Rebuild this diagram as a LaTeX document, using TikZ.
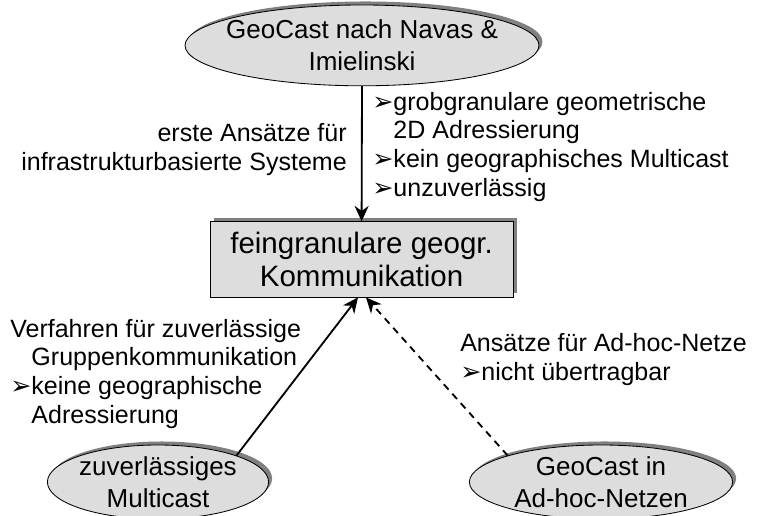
\documentclass[tikz,border=0pt]{standalone}
\usepackage{fontspec}
\setmainfont{Liberation Sans}
\newfontfamily\dejavu{DejaVu Sans}
\usepackage{tikz}
\usetikzlibrary{arrows.meta,positioning,shapes.geometric,shadows,calc}
\definecolor{knotengrau}{RGB}{221,221,221}
\definecolor{schattengrau}{RGB}{128,128,128}
\newcommand{\bul}{{\dejavu\fontsize{18}{18}\selectfont ➢}}

\begin{document}
\begin{tikzpicture}[
    verfahren/.style={draw=black, line width=0.6pt, ellipse, fill=knotengrau, inner xsep=-1cm, inner ysep=0pt, align=center, font=\fontsize{18.5}{22.8}\selectfont, drop shadow={shadow xshift=2.5pt, shadow yshift=2.5pt, fill=schattengrau, opacity=1}},
    ziel/.style={draw=black, line width=0.6pt, rectangle, fill=knotengrau, inner sep=0pt, align=center, font=\fontsize{21}{23.5}\selectfont, drop shadow={shadow xshift=2.5pt, shadow yshift=2.5pt, fill=schattengrau, opacity=1}},
    pfeil/.style={draw=black, line width=1.3pt, -{Stealth[length=11pt,width=10pt]}},
    lab/.style={font=\fontsize{17.8}{20.6}\selectfont, inner sep=0pt}
]
    \useasboundingbox (0,0) rectangle (19.025,12.875);

    % Verfahren und Ziel
    \node[verfahren, minimum width=8.85cm, minimum height=2.02cm] (navas) at (9.05,11.74) {GeoCast nach Navas \&\\Imielinski};
    \node[ziel, minimum width=7.58cm, minimum height=1.88cm] (fein) at (9.04,6.39) {feingranulare geogr.\\Kommunikation};
    \node[verfahren, minimum width=5.53cm, minimum height=1.85cm] (multi) at (3.95,0.825) {zuverlässiges\\Multicast};
    \node[verfahren, minimum width=6.58cm, minimum height=1.85cm] (adhoc) at (15.025,0.825) {GeoCast in\\Ad-hoc-Netzen};

    % Verbindungen
    \draw[pfeil] (navas.south) -- (fein.north);
    \draw[pfeil] (multi.north east) -- ($(fein.south)+(-0.09,0)$);
    \draw[pfeil, dash pattern=on 5pt off 4pt] (adhoc.north west) -- ($(fein.south)+(0.11,0)$);

    % Beschriftungen
    \node[lab, anchor=east, align=right] (erste) at (8.675,9.125) {erste Ansätze für\\infrastrukturbasierte Systeme};
    \node[lab, anchor=west, align=left] (nachteile) at (9.3,9.2) {\bul grobgranulare geometrische\\\hphantom{\bul}2D Adressierung\\\bul kein geographisches Multicast\\\bul unzuverlässig};
    \node[lab, anchor=west, align=left] (gruppe) at (0.25,3.525) {Verfahren für zuverlässige\\\hphantom{\bul}Gruppenkommunikation\\\bul keine geographische\\\hphantom{\bul}Adressierung};
    \node[lab, anchor=west, align=left] (adhoclab) at (11.5,3.885) {Ansätze für Ad-hoc-Netze\\\bul nicht übertragbar};
\end{tikzpicture}
\end{document}
